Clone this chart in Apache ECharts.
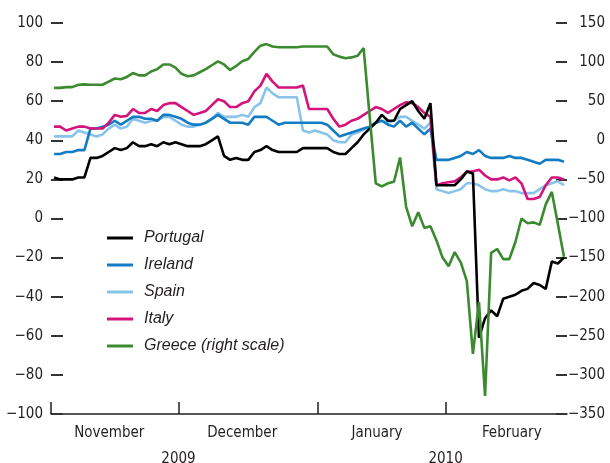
<!DOCTYPE html>
<html>
<head>
<meta charset="utf-8">
<script src="https://cdn.jsdelivr.net/npm/echarts@6/dist/echarts.min.js"></script>
<style>
  html, body { margin: 0; padding: 0; background: #fff; }
  #chart { width: 610px; height: 463px; }
</style>
</head>
<body>
<div id="chart"></div>
<script>
// business days shown on the x axis
const novDays = [2, 3, 4, 5, 6, 9, 10, 11, 12, 13, 16, 17, 18, 19, 20, 23, 24, 25, 26, 27, 30];
const decDays = [1, 2, 3, 4, 7, 8, 9, 10, 11, 14, 15, 16, 17, 18, 21, 22, 23, 24, 25, 28, 29, 30, 31];
const janDays = [1, 4, 5, 6, 7, 8, 11, 12, 13, 14, 15, 18, 19, 20, 21, 22, 25, 26, 27, 28, 29];
const febDays = [1, 2, 3, 4, 5, 8, 9, 10, 11, 12, 15, 16, 17, 18, 19, 22, 23, 24, 25, 26];

const monthNames = ['November', 'December', 'January', 'February'];
const monthLabelAt = [9.6, 31.5, 53.7, 75.9];
const yearNames = ['2009', '2010'];

// left scale
const portugal = [
  21, 20, 20, 20, 21, 21, 31, 31, 32, 34,
  36, 35, 36, 39, 37, 37, 38, 37, 39, 38,
  39, 38, 37, 37, 37, 38, 40, 42, 32, 30,
  31, 30, 30, 34, 35, 37, 35, 34, 34, 34,
  34, 36, 36, 36, 36, 36, 34, 33, 33, 36,
  39, 43, 46, 49, 53, 50, 50, 56, 58, 60,
  55, 51, 59, 17, 17, 17, 17, 20, 24, 23,
  -61, -51, -47, -50, -41, -40, -39, -37, -36, -33,
  -34, -36, -22, -23, -20
];
const ireland = [
  33, 33, 34, 34, 35, 35, 46, 46, 47, 48,
  50, 48, 50, 52, 52, 51, 51, 50, 53, 53,
  52, 51, 49, 48, 48, 49, 51, 53, 51, 49,
  49, 49, 48, 52, 52, 52, 50, 48, 49, 49,
  49, 49, 49, 49, 49, 48, 45, 42, 43, 44,
  45, 46, 47, 49, 50, 48, 47, 50, 47, 49,
  46, 43, 46, 30, 30, 30, 31, 32, 34, 33,
  35, 32, 31, 31, 31, 32, 31, 31, 30, 29,
  28, 30, 30, 30, 29
];
const spain = [
  42, 42, 42, 42, 45, 44, 43, 42, 43, 46,
  48, 46, 47, 51, 50, 49, 50, 50, 52, 52,
  50, 48, 47, 47, 48, 49, 51, 54, 52, 52,
  52, 53, 52, 57, 59, 67, 64, 62, 62, 62,
  62, 45, 44, 45, 44, 43, 40, 39, 39, 43,
  44, 45.5, 47, 49, 50, 49, 50, 52, 52, 50,
  48, 46, 49, 15, 14, 13, 14, 15, 18, 18,
  17, 15, 14, 14, 15, 14, 14, 13, 13, 13,
  15, 17, 18, 19, 17
];
const italy = [
  47, 47, 45, 46, 47, 47, 46, 46, 46, 49,
  53, 52, 52.5, 56, 54, 54, 56, 55, 58, 59,
  59, 57, 55, 53, 54, 55, 58, 61, 60, 57,
  57, 59, 60, 65, 68, 74, 70, 67, 67, 67,
  67, 68, 56, 56, 56, 56, 51, 47, 48, 50,
  51, 53, 55, 57, 56, 54, 56, 58, 59.5, 59,
  57, 54, 52, 17, 18, 18.5, 19, 21, 24, 24,
  25, 22, 20, 20, 21, 19.5, 21, 18, 10, 10,
  11, 17, 21, 21, 20
];
// right scale
const greece = [
  67, 67, 68, 68, 71, 71.5, 71, 71, 71, 75,
  79, 78, 81, 86, 83, 83, 88, 91, 97, 97,
  93, 85, 82, 83, 87, 91, 96, 101, 97, 90,
  95, 101, 104, 113, 121, 123, 120, 119, 119, 119,
  119, 120, 120, 120, 120, 120, 110, 107, 105, 106,
  108, 118, 30, -55, -59, -55, -53, -22, -85, -110,
  -92, -112, -110, -128, -150, -161, -143, -156, -180, -273,
  -207, -327, -144, -139, -152, -152, -130, -100, -106, -105,
  -108, -82, -66, -107, -149
];

function pad(n) { return n < 10 ? '0' + n : '' + n; }
const dates = []
  .concat(novDays.map(d => '2009-11-' + pad(d)))
  .concat(decDays.map(d => '2009-12-' + pad(d)))
  .concat(janDays.map(d => '2010-01-' + pad(d)))
  .concat(febDays.map(d => '2010-02-' + pad(d)));

// index of the first business day of each month
const monthStarts = [];
dates.forEach((d, i) => {
  if (i === 0 || d.slice(0, 7) !== dates[i - 1].slice(0, 7)) monthStarts.push(i);
});
const yearLabelAt = [monthStarts[1], monthStarts[3]];

const FONT = "'Liberation Sans Narrow', 'DejaVu Sans Condensed', sans-serif";
const TEXT = '#231f20';
const minus = v => String(v).replace('-', '\u2212');

const colors = {
  Portugal: '#000000',
  Ireland: '#137cc3',
  Spain: '#88c4ea',
  Italy: '#d4137c',
  Greece: '#3b8a2f'
};

function lineSeries(name, data, color, axis) {
  return {
    name: name,
    type: 'line',
    yAxisIndex: axis,
    data: data,
    showSymbol: false,
    symbol: 'none',
    color: color,
    lineStyle: { color: color, width: 2.6 },
    itemStyle: { color: color }
  };
}

const chart = echarts.init(document.getElementById('chart'), null, { renderer: 'canvas' });
chart.setOption({
  animation: false,
  grid: { left: 51, right: 43, top: 23, bottom: 49, containLabel: false, outerBoundsMode: 'none' },
  legend: {
    orient: 'vertical',
    left: 102,
    top: 225,
    icon: 'rect',
    itemWidth: 26,
    itemHeight: 3,
    itemGap: 11,
    data: ['Portugal', 'Ireland', 'Spain', 'Italy', 'Greece (right scale)'],
    textStyle: {
      fontFamily: 'Liberation Sans',
      fontStyle: 'italic',
      fontSize: 16,
      color: TEXT,
      padding: [0, 0, 0, 6]
    }
  },
  xAxis: [
    {
      type: 'category',
      data: dates,
      boundaryGap: true,
      show: false
    },
    {
      type: 'value',
      min: 0,
      max: dates.length,
      position: 'bottom',
      axisLine: { show: true, onZero: false, lineStyle: { color: TEXT, width: 1.5 } },
      axisTick: {
        show: true,
        inside: true,
        length: 12,
        customValues: monthStarts,
        lineStyle: { color: TEXT, width: 1.5 }
      },
      axisLabel: {
        customValues: monthLabelAt,
        formatter: v => monthNames[monthLabelAt.indexOf(v)],
        margin: 12,
        fontFamily: FONT,
        fontSize: 15,
        color: TEXT
      },
      splitLine: { show: false }
    },
    {
      type: 'value',
      min: 0,
      max: dates.length,
      position: 'bottom',
      offset: 26,
      axisLine: { show: false, onZero: false },
      axisTick: { show: false },
      axisLabel: {
        customValues: yearLabelAt,
        formatter: v => yearNames[yearLabelAt.indexOf(v)],
        margin: 12,
        fontFamily: FONT,
        fontSize: 15,
        color: TEXT
      },
      splitLine: { show: false }
    }
  ],
  yAxis: [
    {
      type: 'value',
      min: -100,
      max: 100,
      interval: 20,
      position: 'left',
      axisLine: { show: false, onZero: false },
      axisTick: { show: true, inside: true, length: 12, lineStyle: { color: '#333', width: 2 } },
      axisLabel: { formatter: minus, margin: 8, fontFamily: FONT, fontSize: 15, color: TEXT },
      splitLine: { show: false }
    },
    {
      type: 'value',
      min: -350,
      max: 150,
      interval: 50,
      position: 'right',
      axisLine: { show: false, onZero: false },
      axisTick: { show: true, inside: true, length: 11, lineStyle: { color: '#333', width: 2 } },
      axisLabel: {
        formatter: minus,
        margin: 38,
        align: 'right',
        fontFamily: FONT,
        fontSize: 15,
        color: TEXT
      },
      splitLine: { show: false }
    }
  ],
  series: [
    lineSeries('Spain', spain, colors.Spain, 0),
    lineSeries('Ireland', ireland, colors.Ireland, 0),
    lineSeries('Italy', italy, colors.Italy, 0),
    lineSeries('Portugal', portugal, colors.Portugal, 0),
    lineSeries('Greece (right scale)', greece, colors.Greece, 1)
  ]
});
</script>
</body>
</html>
